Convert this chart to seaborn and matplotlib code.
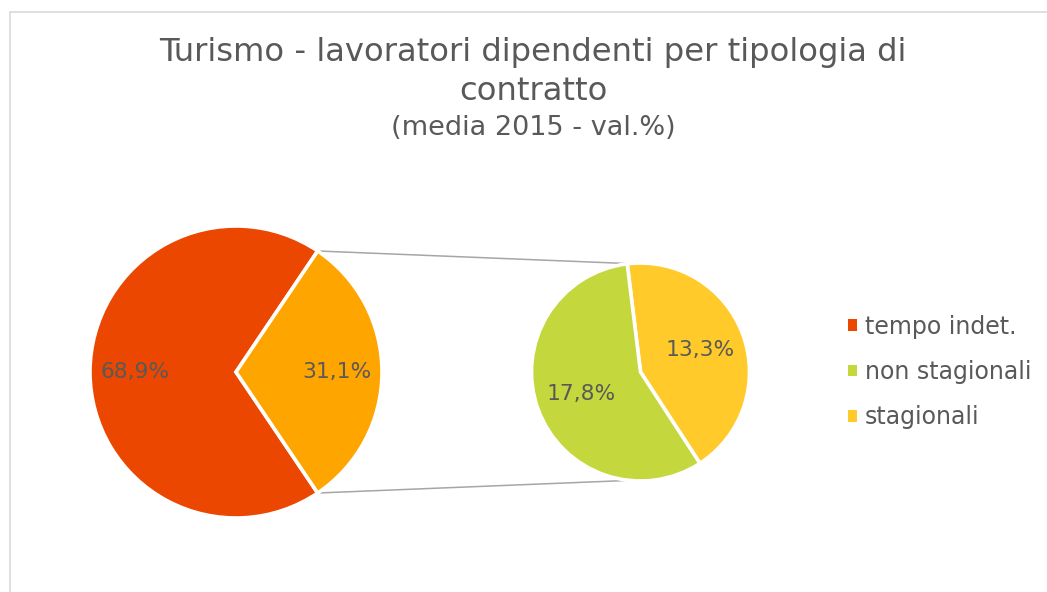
import matplotlib
matplotlib.use("Agg")
import matplotlib.pyplot as plt
from matplotlib.patches import Patch
from matplotlib.lines import Line2D
import numpy as np
import seaborn as sns

# ---- data ----
categories = ["tempo indet.", "non stagionali", "stagionali"]
values = [68.9, 17.8, 13.3]
colors = ["#EC4700", "#C4D83E", "#FFCA2A"]
other_color = "#FFA500"
title_line1 = "Turismo - lavoratori dipendenti per tipologia di"
title_line2 = "contratto"
subtitle = "(media 2015 - val.%)"

sns.set_theme(style="white")
plt.rcParams["font.family"] = ["DejaVu Sans"]

W, H = 1047, 592
fig = plt.figure(figsize=(W / 100, H / 100), dpi=100)
ax = fig.add_axes([0, 0, 1, 1])

txt = "#595959"

def fmt(total):
    return lambda p: f"{p * total / 100:.1f}".replace(".", ",") + "%"

# main pie
main_vals = [values[0], values[1] + values[2]]
main_total = sum(main_vals)
half = main_vals[1] / main_total * 180.0
c1, r1 = (236, H - 372), 146
ax.pie(main_vals, colors=[colors[0], other_color], startangle=half,
       counterclock=True, center=c1, radius=r1, autopct=fmt(main_total),
       pctdistance=0.69, frame=False,
       wedgeprops=dict(edgecolor="white", linewidth=2.6),
       textprops=dict(color=txt, fontsize=15.7))

# secondary pie (stagionali then non stagionali, clockwise)
sec_vals = [values[2], values[1]]
sec_total = sum(sec_vals)
c2, r2 = (640.5, H - 372), 109
ax.pie(sec_vals, colors=[colors[2], colors[1]], startangle=97,
       counterclock=False, center=c2, radius=r2, autopct=fmt(sec_total),
       pctdistance=0.58, frame=False,
       wedgeprops=dict(edgecolor="white", linewidth=2.6),
       textprops=dict(color=txt, fontsize=15.7))

# connector lines
for sgn in (1, -1):
    a1 = np.deg2rad(sgn * half)
    a2 = np.deg2rad(sgn * 96)
    p1 = (c1[0] + r1 * np.cos(a1), c1[1] + r1 * np.sin(a1))
    p2 = (c2[0] + r2 * np.cos(a2), c2[1] + r2 * np.sin(a2))
    ax.plot([p1[0], p2[0]], [p1[1], p2[1]], color="#A6A6A6", lw=1.1, zorder=0)

ax.set_xlim(0, W)
ax.set_ylim(0, H)
ax.set_aspect("equal")
ax.axis("off")

# chart border
fig.add_artist(Line2D([10 / W, 10 / W], [0, 1 - 12 / H], transform=fig.transFigure,
                      color="#D9D9D9", lw=1.2))
fig.add_artist(Line2D([10 / W, 1], [1 - 12 / H, 1 - 12 / H], transform=fig.transFigure,
                      color="#D9D9D9", lw=1.2))

# titles
fig.text(533 / W, 1 - 53 / H, title_line1, ha="center", va="center",
         fontsize=23.2, color=txt)
fig.text(533 / W, 1 - 92 / H, title_line2, ha="center", va="center",
         fontsize=23.2, color=txt)
fig.text(533 / W, 1 - 128 / H, subtitle, ha="center", va="center",
         fontsize=19.5, color=txt)

# legend
handles = [Patch(facecolor=c, edgecolor="none") for c in colors]
fig.legend(handles, categories, loc="center left",
           bbox_to_anchor=(836 / W, 1 - 372 / H), frameon=False,
           fontsize=17, handlelength=0.38, handleheight=0.38,
           handletextpad=0.35, labelspacing=0.9, borderpad=0,
           labelcolor=txt)

fig.savefig("out.png", dpi=100, facecolor="white")
